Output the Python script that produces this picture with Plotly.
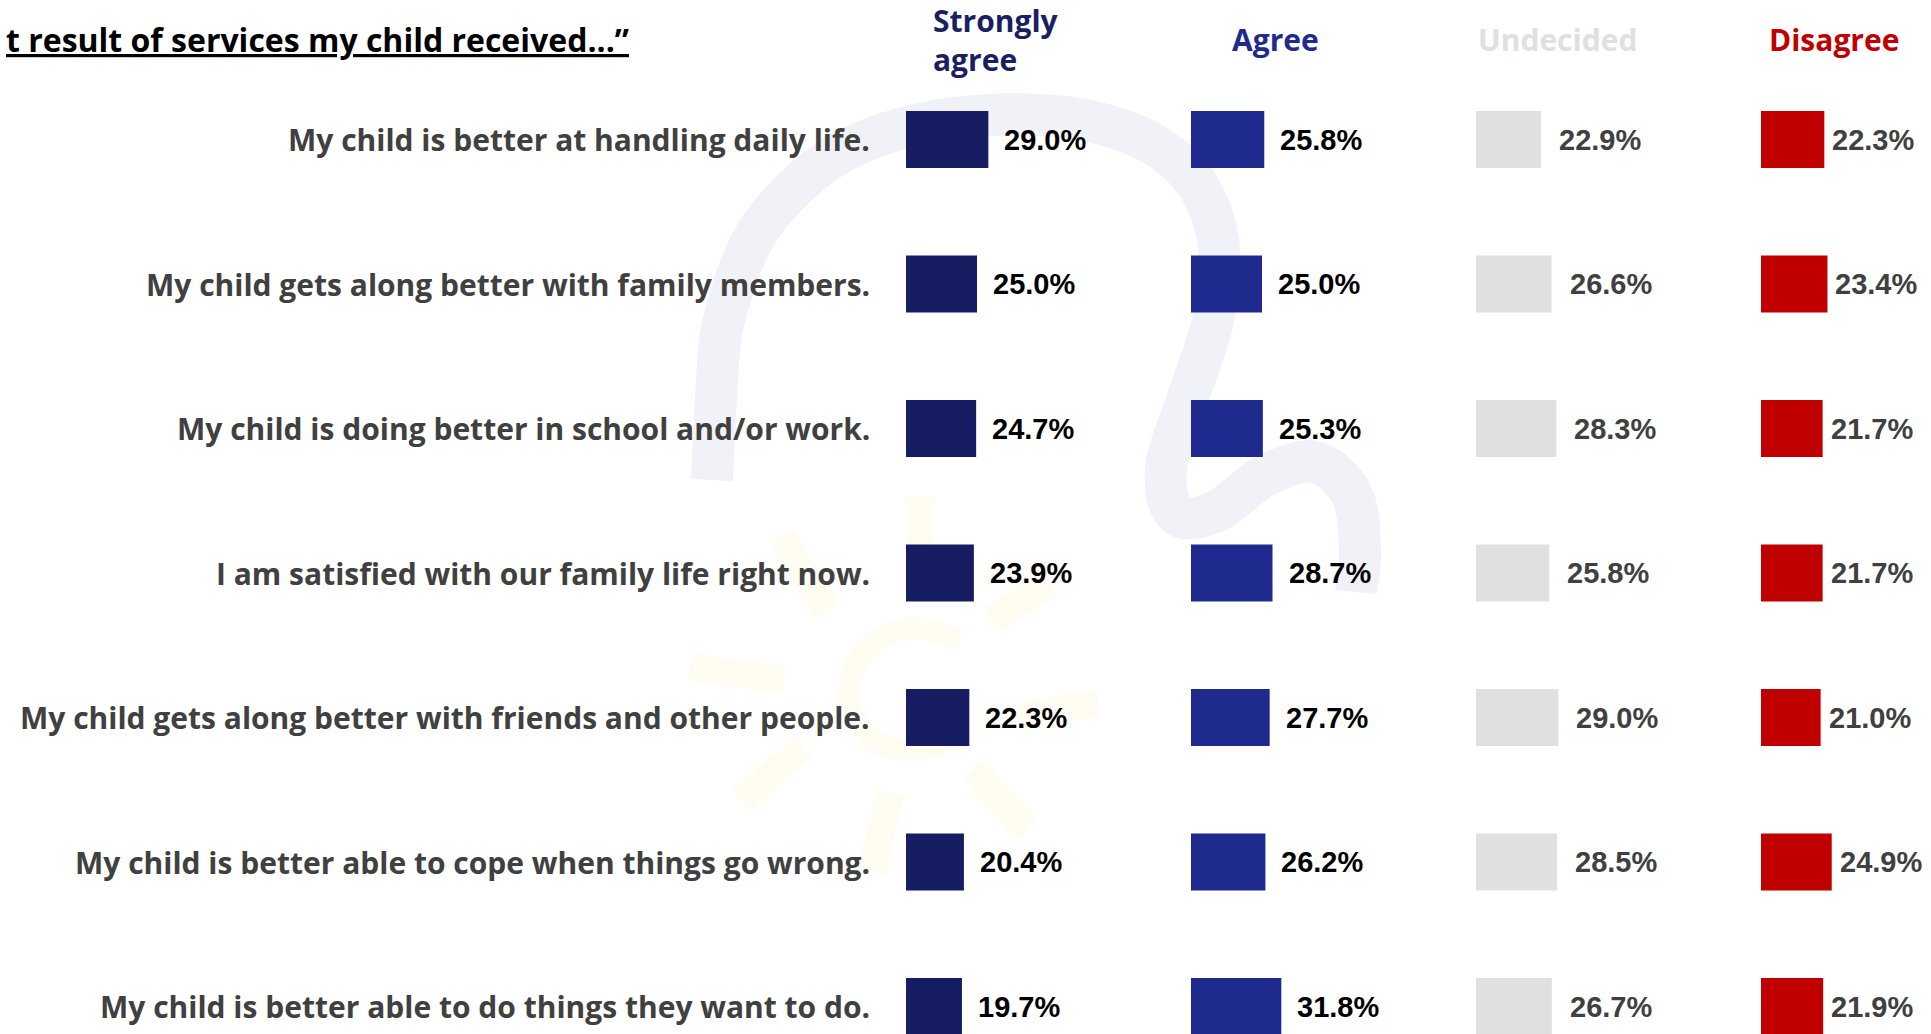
import plotly.graph_objects as go

# ---- data -------------------------------------------------------------
statements = [
    "My child is better at handling daily life.",
    "My child gets along better with family members.",
    "My child is doing better in school and/or work.",
    "I am satisfied with our family life right now.",
    "My child gets along better with friends and other people.",
    "My child is better able to cope when things go wrong.",
    "My child is better able to do things they want to do.",
]
response_levels = ["Strongly<br>agree", "Agree", "Undecided", "Disagree"]
strongly_agree = [29.0, 25.0, 24.7, 23.9, 22.3, 20.4, 19.7]
agree = [25.8, 25.0, 25.3, 28.7, 27.7, 26.2, 31.8]
undecided = [22.9, 26.6, 28.3, 25.8, 29.0, 28.5, 26.7]
disagree = [22.3, 23.4, 21.7, 21.7, 21.0, 24.9, 21.9]
title_text = "t result of services my child received...\u201d"

# ---- styling ----------------------------------------------------------
W, H = 1931, 1034
LABEL_FONT = "Open Sans"
VALUE_FONT = "Liberation Sans"
bar_colors = ["#171d63", "#1f2a8f", "#e0e0e0", "#c00000"]
header_colors = ["#1a1f63", "#1f2a8f", "#e0e0e0", "#c00000"]
value_colors = ["#000000", "#000000", "#404040", "#404040"]
value_gap_px = [14, 14, 16, 6]              # gap between bar end and its label
col_left_px = [906, 1191, 1476, 1761]      # left edge of each response column
header_center_px = [996, 1275, 1557, 1834]  # centre of each column heading
px_per_pct = 2.84
axis_max = 50
col_width_px = axis_max * px_per_pct
row_pitch_px = 144.5
first_row_px = 139.5

series = [strongly_agree, agree, undecided, disagree]
rows = list(range(len(statements)))

fig = go.Figure()


# ---- faint background logo (swoosh + sun) -----------------------------
def px(x, y):
    return x / W, 1 - y / H


def smooth_path(points):
    """Catmull-Rom spline through pixel points -> SVG cubic path in paper units."""
    pts = [px(*p) for p in points]
    d = "M {:.5f},{:.5f}".format(*pts[0])
    for i in range(len(pts) - 1):
        p0 = pts[i - 1] if i > 0 else pts[i]
        p1, p2 = pts[i], pts[i + 1]
        p3 = pts[i + 2] if i + 2 < len(pts) else p2
        c1 = (p1[0] + (p2[0] - p0[0]) / 6, p1[1] + (p2[1] - p0[1]) / 6)
        c2 = (p2[0] - (p3[0] - p1[0]) / 6, p2[1] - (p3[1] - p1[1]) / 6)
        d += " C {:.5f},{:.5f} {:.5f},{:.5f} {:.5f},{:.5f}".format(*c1, *c2, *p2)
    return d


swoosh_pts = [(712, 480), (716, 400), (724, 320), (760, 228), (835, 156),
              (930, 122), (1040, 115), (1130, 133), (1190, 175), (1218, 240),
              (1213, 320), (1187, 400), (1166, 468), (1176, 514), (1215, 512),
              (1265, 476), (1315, 462), (1352, 495), (1360, 550), (1356, 592)]
fig.add_shape(type="path", path=smooth_path(swoosh_pts), xref="paper", yref="paper",
              line=dict(color="#f1f2f7", width=42), layer="below")

sun_rays = [((782, 537), (826, 610)), ((920, 497), (920, 565)),
            ((1050, 582), (992, 620)), ((1098, 703), (1012, 718)),
            ((972, 770), (1028, 830)), ((890, 792), (872, 872)),
            ((804, 746), (742, 800)), ((690, 667), (784, 680))]
for (x0, y0), (x1, y1) in sun_rays:
    a, b = px(x0, y0)
    c, d = px(x1, y1)
    fig.add_shape(type="line", xref="paper", yref="paper", x0=a, y0=b, x1=c, y1=d,
                  line=dict(color="#fffcf2", width=28), layer="below")
fig.add_shape(type="path", xref="paper", yref="paper", layer="below",
              path=smooth_path([(960, 640), (905, 628), (858, 660), (852, 712),
                                (890, 748), (945, 745)]),
              line=dict(color="#fffcf2", width=22))

# ---- bars, one column (x axis) per response level ----------------------
for i, (vals, level) in enumerate(zip(series, response_levels)):
    xa = "x" if i == 0 else f"x{i + 1}"
    fig.add_trace(go.Bar(
        x=vals, y=rows, orientation="h", xaxis=xa, yaxis="y",
        width=0.395, marker=dict(color=bar_colors[i], line=dict(width=0)),
        hoverinfo="skip", showlegend=False,
    ))
    left = col_left_px[i] / W
    fig.update_layout(**{
        ("xaxis" if i == 0 else f"xaxis{i + 1}"): dict(
            domain=[left, left + col_width_px / W], range=[0, axis_max],
            visible=False, fixedrange=True, anchor="y")
    })
    for r, v in zip(rows, vals):
        fig.add_annotation(
            x=v, y=r, xref=xa, yref="y", text=f"<b>{v:.1f}%</b>",
            xanchor="left", yanchor="middle", xshift=value_gap_px[i],
            showarrow=False,
            font=dict(family=VALUE_FONT, size=29, color=value_colors[i]))
    # column heading
    fig.add_annotation(
        x=header_center_px[i] / W, y=1 - 40 / H, xref="paper", yref="paper",
        text=f"<b>{level}</b>", xanchor="center", yanchor="middle",
        showarrow=False, align="left",
        font=dict(family=LABEL_FONT, size=30, color=header_colors[i]))

# ---- statement labels --------------------------------------------------
for r, s in zip(rows, statements):
    fig.add_annotation(
        x=872 / W, y=r, xref="paper", yref="y", text=f"<b>{s}</b>",
        xanchor="right", yanchor="middle", showarrow=False,
        font=dict(family=LABEL_FONT, size=30, color="#404040"))

# ---- question heading --------------------------------------------------
fig.add_annotation(
    x=631 / W, y=1 - 39 / H, xref="paper", yref="paper",
    text=f"<b><u>{title_text}</u></b>", xanchor="right", yanchor="middle",
    showarrow=False, font=dict(family=LABEL_FONT, size=32, color="#000000"))

y_top = -first_row_px / row_pitch_px
y_bottom = y_top + H / row_pitch_px
fig.update_layout(
    width=W, height=H,
    margin=dict(l=0, r=0, t=0, b=0),
    paper_bgcolor="#ffffff", plot_bgcolor="rgba(0,0,0,0)",
    barmode="overlay", showlegend=False,
    yaxis=dict(domain=[0, 1], range=[y_bottom, y_top], visible=False,
               fixedrange=True),
)

fig.write_html("out.html", config={"displayModeBar": False})
